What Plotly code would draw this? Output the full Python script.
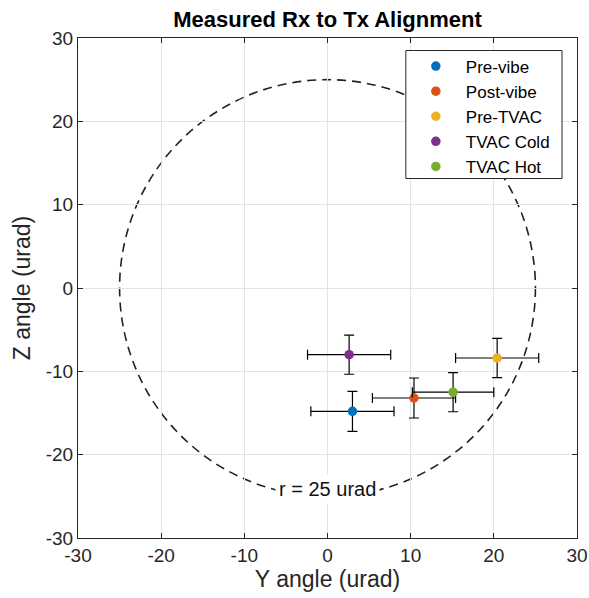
import plotly.graph_objects as go

names = ["Pre-vibe", "Post-vibe", "Pre-TVAC", "TVAC Cold", "TVAC Hot"]
y_angle = [3.0, 10.4, 20.4, 2.6, 15.1]
z_angle = [-14.8, -13.2, -8.4, -8.0, -12.5]
y_err = [5.0, 5.0, 5.0, 5.0, 4.9]
z_err = [2.4, 2.4, 2.35, 2.35, 2.35]
colors = ["#0072BD", "#D95319", "#EDB120", "#7E2F8E", "#77AC30"]
radius = 25
ticks = [-30, -20, -10, 0, 10, 20, 30]

FONT = "Liberation Sans, Arial, Helvetica, sans-serif"
AX = "#262626"

fig = go.Figure()
for n, x, y, ex, ez, c in zip(names, y_angle, z_angle, y_err, z_err, colors):
    fig.add_trace(go.Scatter(
        x=[x], y=[y], mode="markers", name=n,
        marker=dict(color=c, size=9.5),
        error_x=dict(type="data", array=[ex], color="black", thickness=1.2, width=5),
        error_y=dict(type="data", array=[ez], color="black", thickness=1.2, width=5),
    ))

fig.add_shape(type="circle", xref="x", yref="y",
              x0=-radius, x1=radius, y0=-radius, y1=radius,
              line=dict(color="#222222", width=1.6, dash="9px,6px"), layer="below")

# legend frame
fig.add_shape(type="rect", xref="paper", yref="paper",
              x0=0.657, x1=0.970, y0=0.719, y1=0.975,
              line=dict(color=AX, width=1), fillcolor="white", layer="above")

fig.add_annotation(x=0, y=-24.1, xref="x", yref="y", text=f"r = {radius} urad",
                   showarrow=False, bgcolor="white", borderpad=3,
                   font=dict(family=FONT, size=20, color="#111111"))

axis_common = dict(
    range=[-30, 30], tickvals=ticks, ticktext=[str(t) for t in ticks],
    showgrid=True, gridcolor="#e3e3e3", gridwidth=1,
    zeroline=False, showline=True, linecolor=AX, linewidth=1,
    mirror="ticks", ticks="inside", ticklen=5, tickcolor=AX,
    tickfont=dict(family=FONT, size=19, color=AX),
    automargin=False,
)

fig.update_layout(
    width=589, height=598,
    margin=dict(l=78, r=12, t=38, b=60),
    paper_bgcolor="white", plot_bgcolor="white",
    title=dict(text="<b>Measured Rx to Tx Alignment</b>", x=(78 + 577) / 2 / 589,
               xanchor="center", y=1 - 19 / 598, yanchor="middle", yref="container",
               font=dict(family=FONT, size=22, color="black")),
    xaxis=dict(axis_common, title=dict(text="Y angle (urad)", standoff=4,
                                      font=dict(family=FONT, size=23, color=AX))),
    yaxis=dict(axis_common, title=dict(text="Z angle (urad)", standoff=8,
                                      font=dict(family=FONT, size=23, color=AX))),
    legend=dict(x=0.657, y=0.979, xanchor="left", yanchor="top",
                bgcolor="rgba(0,0,0,0)", borderwidth=0,
                font=dict(family=FONT, size=17, color="black"),
                itemwidth=50),
    showlegend=True,
)

fig.write_html(
    "out.html",
    config={"displayModeBar": False},
    post_script="document.body.style.margin='0';document.body.style.overflow='hidden';",
)
